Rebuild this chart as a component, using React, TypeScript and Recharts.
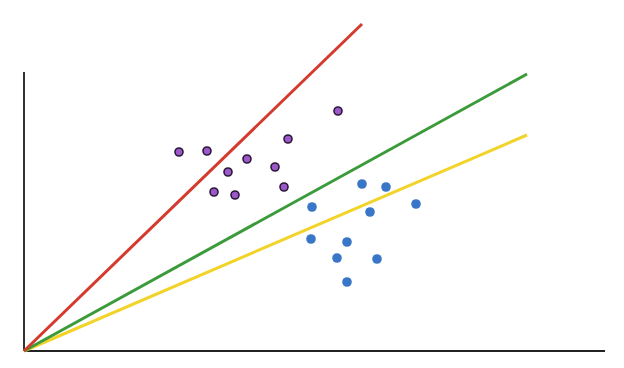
import { ReferenceLine, Scatter, ScatterChart, XAxis, YAxis } from "recharts";

// positions in chart units, origin at the axes corner
const purplePoints = [
  { x: 155, y: 199 },
  { x: 183, y: 200 },
  { x: 204, y: 179 },
  { x: 223, y: 192 },
  { x: 251, y: 184 },
  { x: 264, y: 212 },
  { x: 314, y: 240 },
  { x: 190, y: 159 },
  { x: 211, y: 156 },
  { x: 260, y: 164 },
];

const bluePoints = [
  { x: 338, y: 167 },
  { x: 362, y: 164 },
  { x: 288, y: 144 },
  { x: 346, y: 139 },
  { x: 392, y: 147 },
  { x: 287, y: 112 },
  { x: 323, y: 109 },
  { x: 313, y: 93 },
  { x: 353, y: 92 },
  { x: 323, y: 69 },
];

// lines out of the origin: [end x, end y]
const yellowLine = [503, 216];
const greenLine = [503, 277];
const redLine = [338, 327];

const yAxisTop = 279;
const xAxisEnd = 581;

const PurpleDot = (props: any) => (
  <circle cx={props.cx} cy={props.cy} r={4} fill="#9c57c8" stroke="#2b1838" strokeWidth={1.6} />
);

const BlueDot = (props: any) => <circle cx={props.cx} cy={props.cy} r={4.8} fill="#3a76c8" />;

export default function App() {
  return (
    <div style={{ position: "absolute", left: 0, top: 0, background: "#fff" }}>
      <ScatterChart width={624} height={368} margin={{ top: 24, right: 19, bottom: 17, left: 24 }}>
        <XAxis type="number" dataKey="x" domain={[0, xAxisEnd]} hide />
        <YAxis type="number" dataKey="y" domain={[0, 327]} hide />
        <ReferenceLine
          segment={[{ x: 0, y: 0 }, { x: 0, y: yAxisTop }]}
          stroke="#333"
          strokeWidth={2}
          ifOverflow="visible"
        />
        <ReferenceLine
          segment={[{ x: 0, y: 0 }, { x: xAxisEnd, y: 0 }]}
          stroke="#222"
          strokeWidth={2}
          ifOverflow="visible"
        />
        <ReferenceLine
          segment={[{ x: 0, y: 0 }, { x: yellowLine[0], y: yellowLine[1] }]}
          stroke="#f2d32a"
          strokeWidth={3}
          ifOverflow="visible"
        />
        <ReferenceLine
          segment={[{ x: 0, y: 0 }, { x: greenLine[0], y: greenLine[1] }]}
          stroke="#3b9b3a"
          strokeWidth={3}
          ifOverflow="visible"
        />
        <ReferenceLine
          segment={[{ x: 0, y: 0 }, { x: redLine[0], y: redLine[1] }]}
          stroke="#d53a2f"
          strokeWidth={3}
          ifOverflow="visible"
        />
        <Scatter data={purplePoints} shape={PurpleDot} isAnimationActive={false} />
        <Scatter data={bluePoints} shape={BlueDot} isAnimationActive={false} />
      </ScatterChart>
    </div>
  );
}
